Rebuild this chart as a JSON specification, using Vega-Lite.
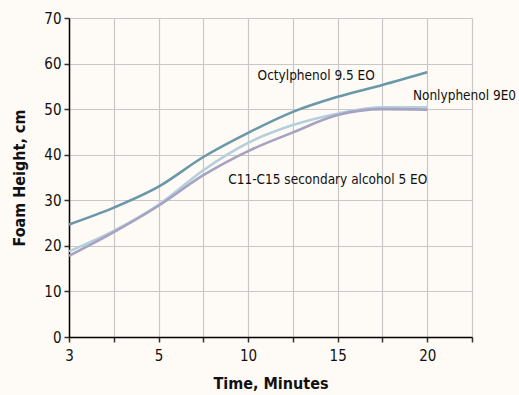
{
  "$schema": "https://vega.github.io/schema/vega-lite/v6.json",
  "width": 403,
  "height": 319,
  "autosize": {"type": "none"},
  "padding": {"left": 69, "top": 18, "right": 47, "bottom": 58},
  "background": "#fefaf5",
  "config": {
    "view": {"stroke": null},
    "font": "DejaVu Sans Condensed, Liberation Sans, sans-serif",
    "axis": {
      "labelFont": "DejaVu Sans Condensed, Liberation Sans, sans-serif",
      "titleFont": "DejaVu Sans Condensed, Liberation Sans, sans-serif",
      "labelFontSize": 15,
      "labelColor": "#111111",
      "titleFontSize": 16,
      "titleFontWeight": "bold",
      "titleColor": "#111111",
      "domainColor": "#000000",
      "domainWidth": 1.5,
      "tickColor": "#333333",
      "tickWidth": 1.5,
      "tickSize": 5,
      "gridColor": "#c8c8c8",
      "gridWidth": 1.2,
      "gridOpacity": 1
    }
  },
  "datasets": {
    "curves": [
      {"time": 3, "height": 24.7, "series": "Octylphenol 9.5 EO"},
      {"time": 4, "height": 28.4, "series": "Octylphenol 9.5 EO"},
      {"time": 5, "height": 33.0, "series": "Octylphenol 9.5 EO"},
      {"time": 7.5, "height": 39.5, "series": "Octylphenol 9.5 EO"},
      {"time": 10, "height": 44.8, "series": "Octylphenol 9.5 EO"},
      {"time": 12.5, "height": 49.4, "series": "Octylphenol 9.5 EO"},
      {"time": 15, "height": 52.7, "series": "Octylphenol 9.5 EO"},
      {"time": 17.5, "height": 55.3, "series": "Octylphenol 9.5 EO"},
      {"time": 20, "height": 58.1, "series": "Octylphenol 9.5 EO"},
      {"time": 3, "height": 18.8, "series": "Nonlyphenol 9E0"},
      {"time": 4, "height": 23.3, "series": "Nonlyphenol 9E0"},
      {"time": 5, "height": 29.0, "series": "Nonlyphenol 9E0"},
      {"time": 7.5, "height": 36.6, "series": "Nonlyphenol 9E0"},
      {"time": 10, "height": 42.6, "series": "Nonlyphenol 9E0"},
      {"time": 12.5, "height": 46.5, "series": "Nonlyphenol 9E0"},
      {"time": 15, "height": 49.0, "series": "Nonlyphenol 9E0"},
      {"time": 17.5, "height": 50.4, "series": "Nonlyphenol 9E0"},
      {"time": 20, "height": 50.4, "series": "Nonlyphenol 9E0"},
      {"time": 3, "height": 17.8, "series": "C11-C15 secondary alcohol 5 EO"},
      {"time": 4, "height": 23.0, "series": "C11-C15 secondary alcohol 5 EO"},
      {"time": 5, "height": 28.8, "series": "C11-C15 secondary alcohol 5 EO"},
      {"time": 7.5, "height": 35.5, "series": "C11-C15 secondary alcohol 5 EO"},
      {"time": 10, "height": 40.8, "series": "C11-C15 secondary alcohol 5 EO"},
      {"time": 12.5, "height": 44.9, "series": "C11-C15 secondary alcohol 5 EO"},
      {"time": 15, "height": 48.7, "series": "C11-C15 secondary alcohol 5 EO"},
      {"time": 17.5, "height": 50.0, "series": "C11-C15 secondary alcohol 5 EO"},
      {"time": 20, "height": 49.9, "series": "C11-C15 secondary alcohol 5 EO"}
    ],
    "labels": [
      {"time": 13.8, "height": 57.3, "text": "Octylphenol 9.5 EO", "pos": "center"},
      {"time": 19.2, "height": 52.9, "text": "Nonlyphenol 9E0", "pos": "left"},
      {"time": 20, "height": 34.4, "text": "C11-C15 secondary alcohol 5 EO", "pos": "right"}
    ]
  },
  "encoding": {
    "x": {
      "field": "time",
      "type": "quantitative",
      "scale": {"domain": [3, 5, 22.5], "range": [0, 89.56, 403], "nice": false, "zero": false},
      "axis": {
        "title": "Time, Minutes",
        "values": [3, 4, 5, 7.5, 10, 12.5, 15, 17.5, 20, 22.5],
        "labelExpr": "(datum.value==3||datum.value==5||datum.value==10||datum.value==15||datum.value==20) ? datum.label : ''",
        "labelPadding": 6,
        "titlePadding": 12,
        "labelFlush": false
      }
    },
    "y": {
      "field": "height",
      "type": "quantitative",
      "scale": {"domain": [0, 70], "nice": false},
      "axis": {
        "title": "Foam Height, cm",
        "values": [0, 10, 20, 30, 40, 50, 60, 70],
        "labelPadding": 3,
        "titlePadding": 16
      }
    }
  },
  "layer": [
    {
      "data": {"name": "curves"},
      "mark": {"type": "line", "interpolate": "monotone", "strokeWidth": 2.6},
      "encoding": {
        "color": {
          "field": "series",
          "type": "nominal",
          "scale": {
            "domain": ["Octylphenol 9.5 EO", "Nonlyphenol 9E0", "C11-C15 secondary alcohol 5 EO"],
            "range": ["#6b98a9", "#b3d0dc", "#a6a2c2"]
          },
          "legend": null
        }
      }
    },
    {
      "data": {"name": "labels"},
      "transform": [{"filter": "datum.pos == 'center'"}],
      "mark": {"type": "text", "fontSize": 13.5, "fontWeight": "normal", "color": "#111111", "baseline": "middle", "align": "center"},
      "encoding": {"text": {"field": "text", "type": "nominal"}}
    },
    {
      "data": {"name": "labels"},
      "transform": [{"filter": "datum.pos == 'left'"}],
      "mark": {"type": "text", "fontSize": 13.5, "fontWeight": "normal", "color": "#111111", "baseline": "middle", "align": "left"},
      "encoding": {"text": {"field": "text", "type": "nominal"}}
    },
    {
      "data": {"name": "labels"},
      "transform": [{"filter": "datum.pos == 'right'"}],
      "mark": {"type": "text", "fontSize": 13.5, "fontWeight": "normal", "color": "#111111", "baseline": "middle", "align": "right"},
      "encoding": {"text": {"field": "text", "type": "nominal"}}
    }
  ]
}
